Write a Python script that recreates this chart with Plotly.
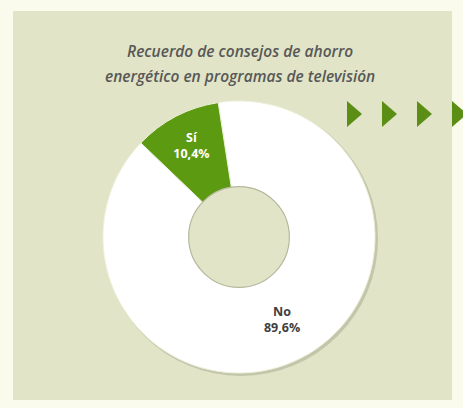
import plotly.graph_objects as go

labels = ["No", "Sí"]
values = [89.6, 10.4]
value_text = ["89,6%", "10,4%"]
slice_colors = ["#ffffff", "#5c9a12"]
text_colors = ["#404040", "#ffffff"]
title_lines = ["Recuerdo de consejos de ahorro", "energético en programas de televisión"]

W, H = 463, 408
cx, cy, R = 239, 237, 136
hole = 0.37
panel_color = "#e1e4c6"


def px(x):
    return x / W


def py(y):
    return 1 - y / H


fig = go.Figure()
fig.add_trace(go.Pie(
    labels=labels,
    values=values,
    text=value_text,
    texttemplate="<b>%{label}</b><br><b>%{text}</b>",
    textinfo="text",
    textposition="inside",
    insidetextorientation="horizontal",
    textfont=dict(family="Open Sans", size=12.5, color=text_colors),
    marker=dict(colors=slice_colors, line=dict(color="#eef3dc", width=1)),
    hole=hole,
    sort=False,
    direction="clockwise",
    rotation=-8.8,
    domain=dict(x=[px(cx - R), px(cx + R)], y=[py(cy + R), py(cy - R)]),
    showlegend=False,
    hoverinfo="label+percent",
))

r_h = R * hole
shapes = [
    # panel
    dict(type="rect", xref="paper", yref="paper", x0=px(13), x1=px(452), y0=py(400), y1=py(11),
         fillcolor=panel_color, line=dict(width=0), layer="below"),
    # ring shadow
    dict(type="circle", xref="paper", yref="paper",
         x0=px(cx - R + 1), x1=px(cx + R + 3), y0=py(cy + R + 3), y1=py(cy - R + 1),
         fillcolor="#c3c6ab", line=dict(width=0), layer="below"),
    # hole fill (panel colour)
    dict(type="circle", xref="paper", yref="paper",
         x0=px(cx - r_h), x1=px(cx + r_h), y0=py(cy + r_h), y1=py(cy - r_h),
         fillcolor=panel_color, line=dict(width=0), layer="below"),
    # hole edge
    dict(type="circle", xref="paper", yref="paper",
         x0=px(cx - r_h), x1=px(cx + r_h), y0=py(cy + r_h), y1=py(cy - r_h),
         fillcolor="rgba(0,0,0,0)", line=dict(color="#b4b79c", width=1.2), layer="above"),
]

# decorative arrows
for i in range(4):
    x0 = 347 + 35 * i
    path = "M {:.4f} {:.4f} L {:.4f} {:.4f} L {:.4f} {:.4f} Z".format(
        px(x0), py(101), px(x0 + 15), py(114), px(x0), py(127))
    shapes.append(dict(type="path", xref="paper", yref="paper", path=path,
                       fillcolor="#5a8e14", line=dict(width=0), layer="below"))

title_font = dict(family="Open Sans", size=15.5, color="#585858", weight=600, style="italic")
annotations = [
    dict(text=title_lines[0], x=px(240), y=py(38), xref="paper", yref="paper",
         showarrow=False, font=title_font),
    dict(text=title_lines[1], x=px(240), y=py(63), xref="paper", yref="paper",
         showarrow=False, font=title_font),
]

fig.update_layout(
    width=W, height=H,
    margin=dict(l=0, r=0, t=0, b=0),
    paper_bgcolor="#fafbec",
    plot_bgcolor="#fafbec",
    shapes=shapes,
    annotations=annotations,
)

fig.write_html("out.html", config={"displayModeBar": False},
               post_script="document.body.style.margin='0';")
